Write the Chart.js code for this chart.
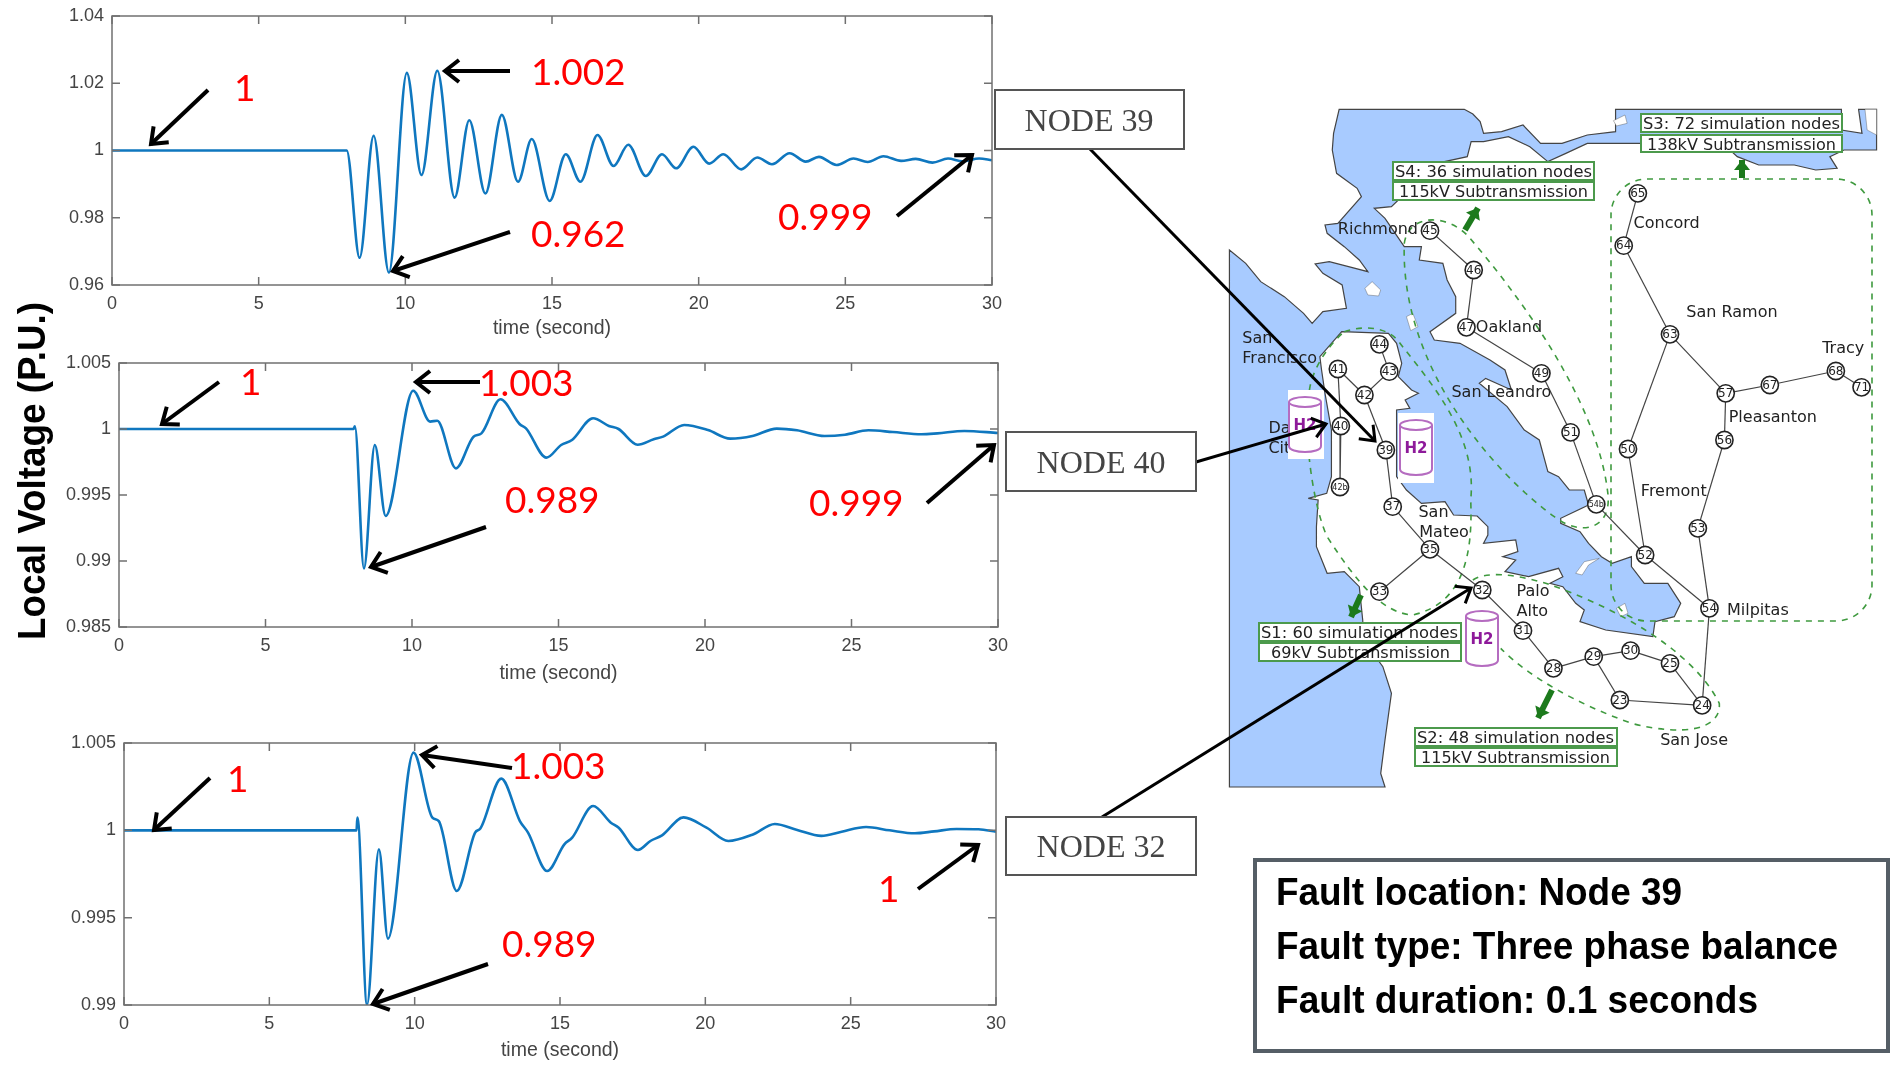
<!DOCTYPE html>
<html>
<head>
<meta charset="utf-8">
<script src="https://cdn.jsdelivr.net/npm/chart.js@4"></script>
<style>
html, body { margin: 0; padding: 0; background: #fff; }
#page { position: relative; width: 1892px; height: 1066px; overflow: hidden; background: #fff; }
#page canvas { position: absolute; z-index: 2; }
#page svg { position: absolute; left: 0; top: 0; }
#mapBack { z-index: 1; }
#overlay { z-index: 3; }
.red { fill: #ff0000; font: 37px Lato, "Liberation Sans", sans-serif; dominant-baseline: central; }
.node { fill: #444; font: 32px "Liberation Serif", serif; text-anchor: middle; dominant-baseline: central; }
.sub { fill: #222; font: 16px "DejaVu Sans", sans-serif; dominant-baseline: central; }
.fault { fill: #000; font: bold 38px "Liberation Sans", sans-serif; dominant-baseline: central; }
.h2 { fill: #8e1a9a; font: bold 15px "DejaVu Sans", sans-serif; text-anchor: middle; dominant-baseline: central; }
</style>
</head>
<body>
<div id="page">

<!-- fond de carte : eau et zones en pointillés -->
<svg id="mapBack" width="1892" height="1066">
  <g transform="translate(1220,100) scale(0.42857,0.33333)">
    <polygon fill="#a8cbff" stroke="#444" stroke-width="1.2" vector-effect="non-scaling-stroke" points="
      278,28 570,28 590,42 607,65 615,100 657,95 707,75 748,130 798,130 857,105 923,95 923,28 982,28
      1450,28 1450,90 1498,100 1490,28 1532,28 1532,150 1456,150 1423,170 1440,205 1390,210 1340,195 1257,195 1207,170 1173,130
      982,130 857,130 807,160 765,185 723,140 673,110 615,125 586,125 577,170 505,190 400,320 360,325 385,355
      430,440 470,440 465,480 520,490 530,540 550,590 550,640 490,695 500,720 560,730 630,780 665,810 680,870 620,835 605,850
      670,920 710,990 745,1020 765,1115 790,1130 815,1170 850,1170 860,1215 795,1255 795,1270 840,1295 860,1330 890,1370 915,1390
      960,1370 960,1400 990,1450 1045,1450 1075,1510 1060,1550 1015,1565 1010,1610 900,1590 840,1565 850,1530 830,1510 800,1460
      770,1450 800,1430 790,1405 720,1430 665,1415 690,1380 660,1370 695,1355 690,1320 615,1330 625,1305 625,1280 600,1248
      545,1245 525,1205 470,1210 435,1170 412,1130 412,930 443,925 432,900 463,880 447,870 416,830 424,790 412,730 393,700
      284,695 233,770 237,810 245,880 260,990 260,1130 249,1180 206,1195 229,1200 225,1280 225,1340 250,1420 290,1415 325,1460
      333,1560 335,1620 380,1700 400,1780 385,1920 375,2020 385,2061 22,2061 22,450 60,490 95,545 150,590 195,640 215,670
      240,635 295,625 285,555 240,520 222,492 255,485 300,500 345,515 325,480 290,440 250,400 245,375 275,370 330,290 320,265
      272,220 262,150 265,100"/>
    <g fill="#fff" stroke="#444" stroke-width="1" vector-effect="non-scaling-stroke">
      <polygon points="338,565 355,545 375,570 370,588 345,585"/>
      <polygon points="435,650 450,640 462,680 445,692"/>
      <polygon points="918,62 945,45 950,70 925,78"/>
      <polygon points="830,1420 850,1385 885,1375 860,1395 845,1425"/>
      <polygon points="925,1525 945,1510 952,1540 935,1550"/>
      <polygon points="1505,28 1532,28 1532,105 1510,90"/>
    </g>
    <g fill="none" stroke="#3f9a3f" stroke-width="1.6" stroke-dasharray="6 6">
      <path vector-effect="non-scaling-stroke" d="M430,430 C440,340 530,340 580,410 C700,590 880,900 905,1180 C915,1290 840,1310 780,1250 C640,1120 420,800 430,430 Z"/>
      <path vector-effect="non-scaling-stroke" d="M290,695 C350,670 400,690 420,730 C500,860 600,1010 585,1200 C590,1360 570,1510 450,1545 C380,1540 320,1450 250,1310 C220,1230 190,1000 210,860 C220,800 250,740 290,695 Z"/>
      <path vector-effect="non-scaling-stroke" d="M590,1440 C620,1415 680,1420 760,1450 C900,1510 1100,1640 1165,1810 C1170,1890 1080,1910 960,1870 C830,1810 720,1730 655,1645"/>
    </g>
  </g>
  <rect x="1611" y="179" width="261" height="442" rx="36" ry="36" fill="none" stroke="#3f9a3f" stroke-width="1.6" stroke-dasharray="6 6"/>
</svg>

<!-- tout ce qui passe au-dessus des graphiques -->
<svg id="overlay" width="1892" height="1066">
  <defs>
    <marker id="head" markerUnits="userSpaceOnUse" markerWidth="32" markerHeight="32" refX="22" refY="16" orient="auto" overflow="visible">
      <path d="M8,5 L22,16 L8,27" fill="none" stroke="#000" stroke-width="4"/>
    </marker>
    <marker id="headThin" markerUnits="userSpaceOnUse" markerWidth="32" markerHeight="32" refX="22" refY="16" orient="auto" overflow="visible">
      <path d="M9,6 L22,16 L9,26" fill="none" stroke="#000" stroke-width="3"/>
    </marker>
    <marker id="headGreen" markerUnits="userSpaceOnUse" markerWidth="24" markerHeight="24" refX="12" refY="12" orient="auto" overflow="visible">
      <path d="M2,4 L12,12 L2,20 Z" fill="#1c7a1c"/>
    </marker>
    <g id="cyl">
      <path d="M1,6 V50 C1,58 33,58 33,50 V6" fill="#fff" stroke="#b56cc0" stroke-width="2"/>
      <ellipse cx="17" cy="6" rx="16" ry="5" fill="#fff" stroke="#b56cc0" stroke-width="2"/>
    </g>
  </defs>

  <text transform="translate(45,640) rotate(-90)" textLength="338" lengthAdjust="spacingAndGlyphs" style="font: bold 39px 'Liberation Sans', sans-serif; fill:#000">Local Voltage (P.U.)</text>

  <!-- flèches et valeurs des trois graphiques -->
  <g stroke="#000" stroke-width="4" fill="none">
    <line x1="208" y1="90" x2="151" y2="144" marker-end="url(#head)"/>
    <line x1="510" y1="71" x2="445" y2="71" marker-end="url(#head)"/>
    <line x1="510" y1="232" x2="393" y2="271" marker-end="url(#head)"/>
    <line x1="897" y1="216" x2="972" y2="155" marker-end="url(#head)"/>
    <line x1="219" y1="382" x2="162" y2="424" marker-end="url(#head)"/>
    <line x1="480" y1="382" x2="416" y2="382" marker-end="url(#head)"/>
    <line x1="486" y1="527" x2="371" y2="567" marker-end="url(#head)"/>
    <line x1="927" y1="503" x2="994" y2="445" marker-end="url(#head)"/>
    <line x1="210" y1="778" x2="154" y2="830" marker-end="url(#head)"/>
    <line x1="512" y1="768" x2="422" y2="755" marker-end="url(#head)"/>
    <line x1="488" y1="964" x2="373" y2="1004" marker-end="url(#head)"/>
    <line x1="918" y1="889" x2="978" y2="845" marker-end="url(#head)"/>
  </g>
  <text class="red" x="234" y="86">1</text>
  <text class="red" x="531" y="70">1.002</text>
  <text class="red" x="531" y="232">0.962</text>
  <text class="red" x="778" y="215">0.999</text>
  <text class="red" x="240" y="380">1</text>
  <text class="red" x="479" y="381">1.003</text>
  <text class="red" x="505" y="498">0.989</text>
  <text class="red" x="809" y="501">0.999</text>
  <text class="red" x="227" y="777">1</text>
  <text class="red" x="511" y="764">1.003</text>
  <text class="red" x="502" y="942">0.989</text>
  <text class="red" x="878" y="887">1</text>

  <!-- réservoirs H2 -->
  <rect x="1288" y="390" width="36" height="69" fill="#fff"/>
  <rect x="1398" y="413" width="36" height="70" fill="#fff"/>
  <use href="#cyl" x="1288" y="396"/>
  <use href="#cyl" x="1399" y="419"/>
  <use href="#cyl" x="1465" y="610"/>
  <text class="h2" x="1305" y="425">H2</text>
  <text class="h2" x="1416" y="448">H2</text>
  <text class="h2" x="1482" y="639">H2</text>

  <!-- étiquettes des sous-systèmes -->
  <g fill="#fff" stroke="#4c9a4c" stroke-width="2">
    <rect x="1641" y="114" width="201" height="18"/><rect x="1641" y="135" width="201" height="17"/>
    <rect x="1393" y="162" width="201" height="18"/><rect x="1393" y="182" width="201" height="18"/>
    <rect x="1259" y="623" width="202" height="18"/><rect x="1259" y="643" width="202" height="18"/>
    <rect x="1415" y="728" width="202" height="18"/><rect x="1415" y="748" width="202" height="18"/>
  </g>
  <text class="sub" x="1643" y="123" textLength="197" lengthAdjust="spacingAndGlyphs">S3: 72 simulation nodes</text>
  <text class="sub" x="1647" y="144" textLength="189" lengthAdjust="spacingAndGlyphs">138kV Subtransmission</text>
  <text class="sub" x="1395" y="171" textLength="197" lengthAdjust="spacingAndGlyphs">S4: 36 simulation nodes</text>
  <text class="sub" x="1399" y="191" textLength="189" lengthAdjust="spacingAndGlyphs">115kV Subtransmission</text>
  <text class="sub" x="1261" y="632" textLength="197" lengthAdjust="spacingAndGlyphs">S1: 60 simulation nodes</text>
  <text class="sub" x="1271" y="652" textLength="179" lengthAdjust="spacingAndGlyphs">69kV Subtransmission</text>
  <text class="sub" x="1417" y="737" textLength="197" lengthAdjust="spacingAndGlyphs">S2: 48 simulation nodes</text>
  <text class="sub" x="1421" y="757" textLength="189" lengthAdjust="spacingAndGlyphs">115kV Subtransmission</text>
  <g stroke="#1c7a1c" stroke-width="6" fill="none">
    <line x1="1465" y1="230" x2="1478" y2="208" marker-end="url(#headGreen)"/>
    <line x1="1742" y1="178" x2="1742" y2="160" marker-end="url(#headGreen)"/>
    <line x1="1361" y1="595" x2="1351" y2="617" marker-end="url(#headGreen)"/>
    <line x1="1552" y1="690" x2="1538" y2="718" marker-end="url(#headGreen)"/>
  </g>

  <!-- boîtes NODE et liaisons vers la carte -->
  <g stroke="#000" stroke-width="3" fill="none">
    <line x1="1090" y1="149" x2="1375" y2="441" marker-end="url(#headThin)"/>
    <line x1="1196" y1="462" x2="1326" y2="424" marker-end="url(#headThin)"/>
    <line x1="1102" y1="817" x2="1471" y2="588" marker-end="url(#headThin)"/>
  </g>
  <g fill="#fff" stroke="#555" stroke-width="2">
    <rect x="995" y="90" width="189" height="59"/>
    <rect x="1006" y="432" width="190" height="59"/>
    <rect x="1006" y="817" width="190" height="58"/>
  </g>
  <text class="node" x="1089" y="120">NODE 39</text>
  <text class="node" x="1101" y="462">NODE 40</text>
  <text class="node" x="1101" y="846">NODE 32</text>

  <!-- encadré du défaut -->
  <rect x="1255" y="860" width="633" height="191" fill="#fff" stroke="#555e66" stroke-width="4"/>
  <text class="fault" x="1276" y="892" textLength="406" lengthAdjust="spacingAndGlyphs">Fault location: Node 39</text>
  <text class="fault" x="1276" y="946" textLength="562" lengthAdjust="spacingAndGlyphs">Fault type: Three phase balance</text>
  <text class="fault" x="1276" y="1000" textLength="482" lengthAdjust="spacingAndGlyphs">Fault duration: 0.1 seconds</text>
</svg>
</div>

<script>
const xTicks = [0, 5, 10, 15, 20, 25, 30];

const yTicks39 = [0.96, 0.98, 1, 1.02, 1.04];
const time39 = [0, 8, 8.44, 8.92, 9.44, 10.05, 10.55, 11.09, 11.68, 12.18, 12.73, 13.29, 13.84, 14.31, 14.92, 15.47, 15.97, 16.55, 17.1, 17.6, 18.2, 18.75, 19.23, 19.82, 20.36, 20.84, 21.45, 22, 22.5, 23.1, 23.65, 24.1, 24.7, 25.28, 25.76, 26.3, 26.9, 27.4, 27.97, 28.5, 29.0, 29.56, 30];
const volt39 = [1, 1, 0.9681, 1.0044, 0.9637, 1.0231, 0.9927, 1.0237, 0.986, 1.009, 0.9872, 1.0106, 0.9907, 1.0034, 0.985, 0.9989, 0.9907, 1.0046, 0.9954, 1.0017, 0.9924, 0.9989, 0.9947, 1.0011, 0.9961, 0.9989, 0.9944, 0.9979, 0.9959, 0.9992, 0.9967, 0.9981, 0.9957, 0.9976, 0.9966, 0.9983, 0.9969, 0.9975, 0.9964, 0.9976, 0.9968, 0.9976, 0.9971];

const yTicks40 = [0.985, 0.99, 0.995, 1, 1.005];
const time40 = [0, 8, 8.05, 8.36, 8.73, 9.1, 10.04, 10.62, 10.86, 11.5, 12.1, 12.37, 13.02, 13.67, 13.89, 14.59, 15.09, 15.46, 16.18, 16.72, 17.05, 17.7, 18.25, 18.57, 19.29, 20.1, 20.86, 21.62, 22.45, 23.14, 24.08, 24.78, 25.58, 26.41, 27.39, 27.93, 28.85, 30];
const volt40 = [1, 1, 1.0002, 0.98944, 0.99879, 0.99341, 1.0029, 1.00056, 1.00063, 0.99702, 0.99942, 0.99967, 1.00225, 1.00038, 1.00005, 0.99783, 0.99879, 0.99917, 1.00081, 1.00023, 1, 0.99881, 0.99922, 0.99942, 1.0003, 0.99992, 0.99927, 0.99947, 1.00003, 0.9999, 0.99947, 0.99957, 0.9999, 0.99977, 0.9996, 0.99967, 0.99985, 0.9997];

const yTicks32 = [0.99, 0.995, 1, 1.005];
const time32 = [0, 8, 8.03, 8.36, 8.77, 9.08, 9.96, 10.61, 10.83, 11.45, 12.08, 12.26, 12.98, 13.62, 13.9, 14.56, 15.15, 15.42, 16.14, 16.75, 17.02, 17.68, 18.11, 18.51, 19.25, 20.04, 20.79, 21.62, 22.39, 23.16, 23.99, 24.69, 25.53, 26.34, 27.21, 27.87, 28.64, 29.4, 30];
const volt32 = [1, 1, 1.00073, 0.99002, 0.99891, 0.9938, 1.00445, 1.00073, 1.00053, 0.99653, 0.99987, 1.0001, 1.00296, 1.00053, 0.99987, 0.99767, 0.9992, 0.99958, 1.00139, 1.00044, 1.00015, 0.99887, 0.99939, 0.99971, 1.00074, 1.00015, 0.99939, 0.99975, 1.00036, 1.00002, 0.99968, 0.99992, 1.00019, 1, 0.99983, 0.99994, 1.00008, 1.00006, 0.99992];

// 2. Réseau : position des noeuds en unités de carte (0-1568 / 0-2100)
const nodeIds = ['45','46','47','49','51','65','64','63','57','67','68','71','56','50','53','54','52','54b','41','44','43','42','40','42b','39','37','35','33','32','31','28','29','30','25','23','24'];
const nodeX = [490,592,575,750,818,975,942,1050,1180,1283,1437,1497,1177,952,1115,1142,992,878,275,372,395,337,282,280,387,403,490,372,612,707,778,872,958,1050,933,1125];
const nodeY = [392,510,682,820,997,280,437,703,880,855,813,862,1020,1047,1285,1525,1365,1213,807,733,815,885,978,1161,1050,1220,1348,1475,1470,1592,1705,1670,1652,1690,1800,1816];
const edgeList = [['45','46'],['46','47'],['47','49'],['49','51'],['51','54b'],['54b','52'],['52','54'],['50','52'],['65','64'],['64','63'],['63','50'],['63','57'],['57','67'],['67','68'],['68','71'],['57','56'],['56','53'],['53','54'],['54','24'],['41','40'],['41','42'],['44','43'],['43','42'],['42','39'],['40','42b'],['39','37'],['37','35'],['35','33'],['35','32'],['32','31'],['31','28'],['28','29'],['29','30'],['30','25'],['25','24'],['29','23'],['23','24']];
const placeNames = ['Richmond','Concord','San Ramon','Oakland','Tracy','San','Francisco','San Leandro','Pleasanton','Da','Cit','Fremont','San','Mateo','Palo','Alto','Milpitas','San Jose'];
const placeX = [275,965,1088,597,1405,52,52,540,1187,113,113,982,463,465,692,692,1183,1027];
const placeY = [390,373,640,683,747,718,778,880,953,987,1048,1175,1240,1300,1475,1535,1533,1922];

// 3. Cadre façon MATLAB : bordure et graduations vers l'intérieur
const boxPlugin = {
    id: 'boxPlugin',
    afterDatasetsDraw(chart) {
        const { ctx, chartArea: a, scales } = chart;
        ctx.save();
        ctx.strokeStyle = '#707070';
        ctx.lineWidth = 1.5;
        ctx.strokeRect(a.left, a.top, a.right - a.left, a.bottom - a.top);
        ctx.beginPath();
        scales.x.ticks.forEach(t => {
            const px = scales.x.getPixelForValue(t.value);
            ctx.moveTo(px, a.bottom); ctx.lineTo(px, a.bottom - 8);
            ctx.moveTo(px, a.top); ctx.lineTo(px, a.top + 8);
        });
        scales.y.ticks.forEach(t => {
            const py = scales.y.getPixelForValue(t.value);
            ctx.moveTo(a.left, py); ctx.lineTo(a.left + 8, py);
            ctx.moveTo(a.right, py); ctx.lineTo(a.right - 8, py);
        });
        ctx.stroke();
        ctx.restore();
    }
};

// 4. Un graphique de tension
function voltChart(times, volts, yTicks, plot, bottomSpace) {
    const canvas = document.createElement('canvas');
    const leftSpace = 70, pad = 16;
    canvas.width = plot.right - plot.left + leftSpace + pad;
    canvas.height = plot.bottom - plot.top + pad + bottomSpace;
    canvas.style.left = (plot.left - leftSpace) + 'px';
    canvas.style.top = (plot.top - pad) + 'px';
    document.getElementById('page').appendChild(canvas);

    const tickFont = { family: '"Liberation Sans"', size: 18 };
    return new Chart(canvas.getContext('2d'), {
        type: 'line',
        data: {
            datasets: [{
                data: times.map((t, i) => ({ x: t, y: volts[i] })),
                borderColor: '#0f77bf',
                borderWidth: 2.6,
                pointRadius: 0,
                cubicInterpolationMode: 'monotone'
            }]
        },
        options: {
            responsive: false,
            animation: false,
            layout: { autoPadding: false, padding: { top: pad, right: pad, left: 0, bottom: 0 } },
            plugins: { legend: { display: false }, tooltip: { enabled: false } },
            scales: {
                x: {
                    type: 'linear', min: 0, max: 30,
                    grid: { display: false, drawTicks: false },
                    border: { display: false },
                    afterBuildTicks: s => { s.ticks = xTicks.map(v => ({ value: v })); },
                    afterFit: s => { s.height = bottomSpace; s.paddingLeft = 0; s.paddingRight = 0; },
                    ticks: { color: '#444', font: tickFont, padding: 8, maxRotation: 0, autoSkip: false },
                    title: { display: true, text: 'time (second)', color: '#444', padding: 0, font: { family: '"Liberation Sans"', size: 19.5 } }
                },
                y: {
                    type: 'linear', min: yTicks[0], max: yTicks[yTicks.length - 1],
                    grid: { display: false, drawTicks: false },
                    border: { display: false },
                    afterBuildTicks: s => { s.ticks = yTicks.map(v => ({ value: v })); },
                    afterFit: s => { s.width = leftSpace; s.paddingTop = 0; s.paddingBottom = 0; },
                    ticks: { color: '#444', font: tickFont, padding: 8, autoSkip: false, callback: v => String(v) }
                }
            }
        },
        plugins: [boxPlugin]
    });
}

// 5. Carte du réseau, dessinée comme un nuage de points relié
const mapLabels = {
    id: 'mapLabels',
    afterDatasetsDraw(chart) {
        const { ctx, scales } = chart;
        ctx.save();
        ctx.textBaseline = 'middle';
        ctx.fillStyle = '#222';
        ctx.font = '16px "DejaVu Sans"';
        ctx.textAlign = 'left';
        placeNames.forEach((name, i) => {
            ctx.fillText(name, scales.x.getPixelForValue(placeX[i]), scales.y.getPixelForValue(placeY[i]));
        });
        ctx.textAlign = 'center';
        nodeIds.forEach((id, i) => {
            ctx.font = (id.length > 2 ? '8px' : '12px') + ' "DejaVu Sans"';
            ctx.fillText(id, scales.x.getPixelForValue(nodeX[i]), scales.y.getPixelForValue(nodeY[i]) + 0.5);
        });
        ctx.restore();
    }
};

function mapChart() {
    const canvas = document.createElement('canvas');
    canvas.width = 672;
    canvas.height = 700;
    canvas.style.left = '1220px';
    canvas.style.top = '100px';
    document.getElementById('page').appendChild(canvas);

    const pos = id => { const i = nodeIds.indexOf(id); return { x: nodeX[i], y: nodeY[i] }; };
    const edges = edgeList.map(([a, b]) => ({
        data: [pos(a), pos(b)],
        showLine: true,
        borderColor: '#444',
        borderWidth: 1.2,
        pointRadius: 0
    }));
    const nodes = {
        data: nodeIds.map(pos),
        showLine: false,
        pointRadius: 8.6,
        pointBackgroundColor: '#fff',
        pointBorderColor: '#222',
        pointBorderWidth: 1.6
    };
    return new Chart(canvas.getContext('2d'), {
        type: 'scatter',
        data: { datasets: [nodes].concat(edges) },
        options: {
            responsive: false,
            animation: false,
            layout: { autoPadding: false, padding: 0 },
            plugins: { legend: { display: false }, tooltip: { enabled: false } },
            scales: {
                x: { type: 'linear', min: 0, max: 1568, display: false },
                y: { type: 'linear', min: 0, max: 2100, reverse: true, display: false }
            }
        },
        plugins: [mapLabels]
    });
}

// Lancement
voltChart(time39, volt39, yTicks39, { left: 112, right: 992, top: 16, bottom: 285 }, 55);
voltChart(time40, volt40, yTicks40, { left: 119, right: 998, top: 363, bottom: 627 }, 58);
voltChart(time32, volt32, yTicks32, { left: 124, right: 996, top: 743, bottom: 1005 }, 57);
mapChart();
</script>
</body>
</html>
